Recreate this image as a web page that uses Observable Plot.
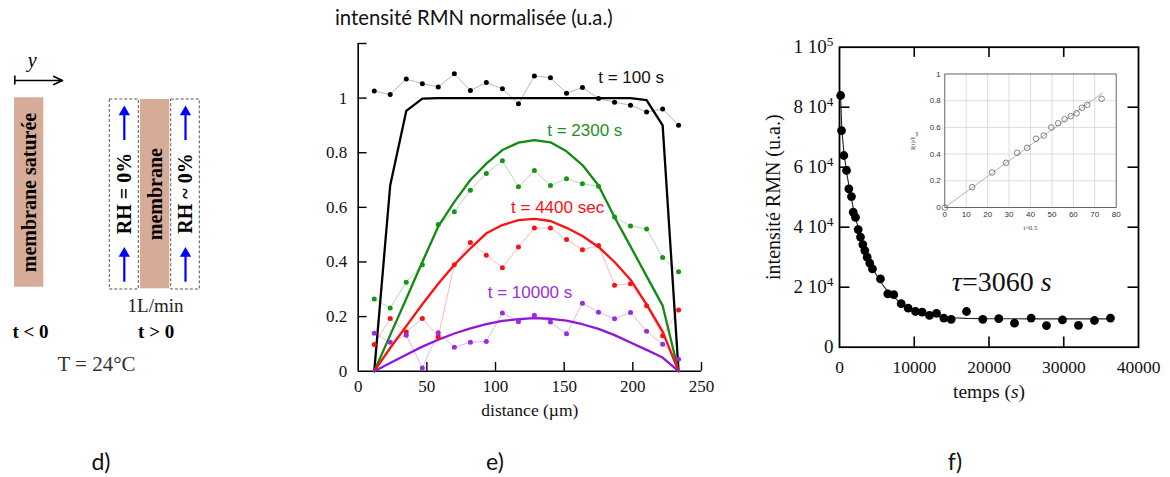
<!DOCTYPE html>
<html><head><meta charset="utf-8">
<script src="https://cdn.jsdelivr.net/npm/d3@7"></script>
<script src="https://cdn.jsdelivr.net/npm/@observablehq/plot@0.6"></script>
<style>
html,body{margin:0;padding:0;background:#fff;}
#wrap{position:relative;width:1170px;height:477px;overflow:hidden;background:#fff;}
#wrap svg{position:absolute;left:0;top:0;}
.lbl{position:absolute;font-family:Lato,"Open Sans",sans-serif;color:#111;white-space:nowrap;line-height:1;}
</style></head><body>
<div id="wrap"></div>
<script>
// ================= DATA =================
// Panel e : normalised NMR intensity profiles across the membrane
const distance = [11.7,23.3,35,46.7,58.3,70,81.7,93.3,105,116.7,128.3,140,151.7,163.3,175,186.7,198.3,210,221.7,233.3];
const meas100   = [1.026,1.013,1.070,1.053,1.041,1.089,1.028,1.057,1.034,0.979,1.081,1.075,1.018,1.039,0.999,0.985,0.974,0.949,0.960,0.901];
const meas2300  = [0.264,0.231,0.326,0.390,0.537,0.584,0.663,0.724,0.771,0.675,0.735,0.680,0.705,0.686,0.677,0.565,0.532,0.521,0.416,0.364];
const meas4400  = [0.098,0.193,0.144,0.193,0.126,0.390,0.471,0.425,0.379,0.455,0.524,0.524,0.482,0.445,0.460,0.315,0.320,0.240,0.130,0.224];
const meas10000 = [0.139,0.106,0.132,0.012,0.141,0.088,0.106,0.109,0.213,0.181,0.205,0.180,0.137,0.249,0.216,0.192,0.215,0.146,0.099,0.044];
const model100   = [0,0.68,0.953,0.998,1,1,1,1,1,1,1,1,1,1,1,1,1,0.993,0.90,0];
const model2300  = [0,0.132,0.265,0.40,0.53,0.62,0.70,0.76,0.81,0.837,0.846,0.838,0.805,0.755,0.68,0.564,0.457,0.348,0.24,0];
const model4400  = [0,0.085,0.165,0.245,0.32,0.39,0.45,0.505,0.535,0.553,0.558,0.550,0.525,0.495,0.455,0.40,0.335,0.245,0.145,0];
const model10000 = [0,0.03,0.06,0.09,0.115,0.138,0.157,0.172,0.184,0.191,0.194,0.192,0.185,0.172,0.155,0.132,0.105,0.078,0.05,0];
const eSeriesNames = ["t = 100 s","t = 2300 s","t = 4400 sec","t = 10000 s"];
const eXticks = [0,50,100,150,200,250];
const eXtickLabels = ["0","50","100","150","200","250"];
const eYticks = [0,0.2,0.4,0.6,0.8,1];
const eYtickLabels = ["0","0.2","0.4","0.6","0.8","1"];

// Panel f : NMR intensity vs time
const temps = [150,270,580,940,1250,1600,1830,2140,2500,2810,3120,3390,3700,4050,4410,5480,6460,7260,8250,9190,10170,11060,12040,12980,13950,14940,16990,19170,21310,23410,25640,27690,29830,31970,34110,36250];
const intensite = [83900,72200,63900,58900,52800,50200,45000,43300,39200,36700,34200,32200,30000,28000,26100,22800,17800,17500,14500,13000,11900,11700,10600,11300,9700,9300,11900,9300,9500,8000,9700,7200,9100,7300,8900,9700];
const fitTemps = [150,300,600,1000,1500,2000,2500,3000,3500,4000,4500,5000,6000,7000,8000,9000,10000,11000,12000,13000,14000,15000,17000,20000,25000,30000,36000];
const fitIntensite = [83900,73000,64500,57500,50500,44500,39800,35500,31800,28700,26000,23800,20000,17200,15200,13600,12400,11500,10900,10400,10100,9800,9600,9500,9450,9450,9450];
const fXticks = [0,10000,20000,30000,40000];
const fXtickLabels = ["0","10000","20000","30000","40000"];
const fYticks = [0,20000,40000,60000,80000,100000];
const fYtickLabels = ["0","2 10^{4}","4 10^{4}","6 10^{4}","8 10^{4}","1 10^{5}"];

// Inset : I(t)/I_sat vs t^0.5
const sqrtT = [0,12.8,22.1,28.6,33.8,38.4,42.6,46.2,49.7,52.9,55.9,58.8,61.5,64.0,66.5,73.2];
const ratio = [0,0.152,0.262,0.335,0.410,0.447,0.515,0.539,0.599,0.631,0.661,0.684,0.706,0.747,0.769,0.814];
const insetFitX = [0,73.5];
const insetFitY = [0,0.857];
const insetXticks = [0,10,20,30,40,50,60,70,80];
const insetYticks = [0,0.2,0.4,0.6,0.8,1];
const insetYtickLabels = ["0","0.2","0.4","0.6","0.8","1"];

// Panel d : schematic labels
const membraneLabels = ["membrane saturée","membrane"];
const gasLabels = ["RH = 0%","RH ~ 0%"];
const stateLabels = ["t < 0","t > 0"];

// ================= LAYOUT / STYLE =================
const W = 1170, H = 477;
const SERIF = "Liberation Serif, Times New Roman, serif";
const SANS = "Liberation Sans, Arial, sans-serif";
const base = {width: W, height: H, style: {background: "none", overflow: "visible"}};
const wrap = document.getElementById("wrap");

function rich(svg) {
  const NS = "http://www.w3.org/2000/svg";
  svg.querySelectorAll("text").forEach(t => {
    const s = t.textContent;
    if (!/(\^\{|_\{|\*)/.test(s)) return;
    const parts = s.split(/(\^\{[^}]*\}|_\{[^}]*\}|\*[^*]*\*)/).filter(p => p);
    t.textContent = "";
    for (const p of parts) {
      const ts = document.createElementNS(NS, "tspan");
      if (p.startsWith("^{")) { ts.textContent = p.slice(2, -1); ts.setAttribute("baseline-shift", "super"); ts.setAttribute("font-size", "70%"); }
      else if (p.startsWith("_{")) { ts.textContent = p.slice(2, -1); ts.setAttribute("baseline-shift", "sub"); ts.setAttribute("font-size", "70%"); }
      else if (p.startsWith("*")) { ts.textContent = p.slice(1, -1); ts.setAttribute("font-style", "italic"); }
      else ts.textContent = p;
      t.appendChild(ts);
    }
  });
  return svg;
}
function add(svg) { wrap.appendChild(rich(svg)); }

// ---------- Panel d (schematic) ----------
const dLayout = {
  membranes: [{x1:14, x2:43.3, y1:97.3, y2:286.7}, {x1:140, x2:169.3, y1:99, y2:288.3}],
  gas: [{x1:109.3, x2:138.3, y1:99, y2:289}, {x1:170.7, x2:199.3, y1:99, y2:289}],
  states: [{x:30, y:331.7}, {x:155.7, y:331.7}]
};
const memb = membraneLabels.map((l, i) => ({label: l, ...dLayout.membranes[i]}));
const gas = gasLabels.map((l, i) => ({label: l, ...dLayout.gas[i]}));
const shafts = gas.flatMap(g => [{x:(g.x1+g.x2)/2, y1:140, y2:112}, {x:(g.x1+g.x2)/2, y1:281.7, y2:254}]);
const heads = gas.flatMap(g => [{x:(g.x1+g.x2)/2, y:111.5}, {x:(g.x1+g.x2)/2, y:253}]);
add(Plot.plot({
  ...base, margin: 0,
  x: {domain: [0, W], range: [0, W], axis: null},
  y: {domain: [0, H], range: [0, H], axis: null},
  marks: [
    Plot.rect(memb, {x1:"x1", x2:"x2", y1:"y1", y2:"y2", fill:"#d6ab98"}),
    Plot.rect(gas, {x1:"x1", x2:"x2", y1:"y1", y2:"y2", fill:"none", stroke:"#555", strokeWidth:1, strokeDasharray:"3,2"}),
    Plot.ruleX(shafts, {x:"x", y1:"y1", y2:"y2", stroke:"#0000ff", strokeWidth:2.2}),
    Plot.dot(heads, {x:"x", y:"y", symbol:"triangle", r:4.2, fill:"#0000ff"}),
    Plot.text(memb, {x:d=>(d.x1+d.x2)/2, y:d=>(d.y1+d.y2)/2, text:"label", rotate:-90, fontFamily:SERIF, fontWeight:"bold", fontSize:20, fill:"#000"}),
    Plot.text(gas, {x:d=>(d.x1+d.x2)/2, y:d=>(d.y1+d.y2)/2 - 1, text:"label", rotate:-90, fontFamily:SERIF, fontWeight:"bold", fontSize:20, fill:"#000"}),
    Plot.arrow([{x1:14.3, x2:62, y:80}], {x1:"x1", x2:"x2", y1:"y", y2:"y", stroke:"#000", strokeWidth:1.6, headLength:9, headAngle:50}),
    Plot.ruleX([{x:14.3}], {x:"x", y1:75.5, y2:84.5, stroke:"#000", strokeWidth:1.6}),
    Plot.text(["*y*"], {x:31.7, y:60, text:d=>d, fontFamily:SERIF, fontSize:20}),
    Plot.text(["1L/min"], {x:155, y:305, text:d=>d, fontFamily:SERIF, fontSize:19, fill:"#222"}),
    Plot.text(stateLabels.map((l, i) => ({label:l, ...dLayout.states[i]})), {x:"x", y:"y", text:"label", fontFamily:SERIF, fontWeight:"bold", fontSize:19}),
    Plot.text(["T = 24°C"], {x:96, y:363.3, text:d=>d, fontFamily:SERIF, fontSize:21, fill:"#333"})
  ]
}));

// ---------- Panel e ----------
const eStyle = [
  {model:"#000000", light:"#b8b8b8", dot:"#000000", text:"#111111", lx:198.7, ly:1.076},
  {model:"#138a13", light:"#b5dcb5", dot:"#139613", text:"#1f8f1f", lx:165, ly:0.883},
  {model:"#ff1010", light:"#ffb8b8", dot:"#ff1010", text:"#ff1010", lx:145.2, ly:0.601},
  {model:"#9116d6", light:"#dcb8ef", dot:"#9b2be0", text:"#9b30d9", lx:125.1, ly:0.289}
];
const eMeas = [meas100, meas2300, meas4400, meas10000];
const eModel = [model100, model2300, model4400, model10000];
const eMarks = [];
eMeas.forEach((m, i) => eMarks.push(Plot.line(distance, {x: distance, y: m, stroke: eStyle[i].light, strokeWidth: 1})));
eModel.forEach((m, i) => eMarks.push(Plot.line(distance, {x: distance, y: m, stroke: eStyle[i].model, strokeWidth: 2.3})));
eMeas.forEach((m, i) => eMarks.push(Plot.dot(distance, {x: distance, y: m, r: 2.5, fill: eStyle[i].dot, stroke: "none"})));
eSeriesNames.forEach((n, i) => eMarks.push(Plot.text([n], {x: eStyle[i].lx, y: eStyle[i].ly, text: d => d, fill: eStyle[i].text, fontFamily: SANS, fontSize: 17})));
add(Plot.plot({
  ...base,
  marginLeft: 357.7, marginRight: W - 701, marginTop: 43, marginBottom: H - 370.7,
  x: {domain: [0, 250], axis: null},
  y: {domain: [0, 1.2], axis: null},
  marks: [
    Plot.ruleX([0], {y1: 0, y2: 1.2, stroke: "#000", strokeWidth: 1.6}),
    Plot.ruleY([0], {x1: 0, x2: 250, stroke: "#000", strokeWidth: 1.6}),
    Plot.ruleY(eYticks.slice(1).concat([1.2]), {y: d => d, x1: 0, x2: 6.5, stroke: "#000", strokeWidth: 1.4}),
    Plot.ruleX(eXticks.slice(1), {x: d => d, y1: 0, y2: 0.032, stroke: "#000", strokeWidth: 1.4}),
    Plot.text(eYticks, {x: 0, y: d => d, text: (d, i) => eYtickLabels[i], textAnchor: "end", dx: -11, fontFamily: SERIF, fontSize: 17, fill: "#111"}),
    Plot.text(eXticks, {x: d => d, y: 0, text: (d, i) => eXtickLabels[i], dy: 15, fontFamily: SERIF, fontSize: 17, fill: "#111"}),
    Plot.text(["distance (µm)"], {frameAnchor: "bottom", text: d => d, dy: 39.5, textAnchor: "middle", lineAnchor: "middle", fontFamily: SERIF, fontSize: 17.5, fill: "#111"}),
    ...eMarks
  ]
}));

// ---------- Panel f ----------
const tickX = fXticks.slice(1, -1), tickY = fYticks.slice(1, -1);
add(Plot.plot({
  ...base,
  marginLeft: 839, marginRight: W - 1138, marginTop: 46.7, marginBottom: H - 346.7,
  x: {domain: [0, 40000], axis: null},
  y: {domain: [0, 100000], axis: null},
  marks: [
    Plot.frame({stroke: "#000", strokeWidth: 1.8}),
    Plot.ruleX(tickX, {x: d => d, y1: 0, y2: 3400, stroke: "#000", strokeWidth: 1.6}),
    Plot.ruleX(tickX, {x: d => d, y1: 100000, y2: 96600, stroke: "#000", strokeWidth: 1.6}),
    Plot.ruleY(tickY, {y: d => d, x1: 0, x2: 1400, stroke: "#000", strokeWidth: 1.6}),
    Plot.ruleY(tickY, {y: d => d, x1: 40000, x2: 38600, stroke: "#000", strokeWidth: 1.6}),
    Plot.text(fYticks, {x: 0, y: d => d, text: (d, i) => fYtickLabels[i], textAnchor: "end", dx: -6, fontFamily: SERIF, fontSize: 19, fill: "#111"}),
    Plot.text(fXticks, {x: d => d, y: 0, text: (d, i) => fXtickLabels[i], dy: 20, fontFamily: SERIF, fontSize: 17.5, fill: "#111"}),
    Plot.text(["intensité RMN (u.a.)"], {frameAnchor: "left", text: d => d, dx: -66, rotate: -90, textAnchor: "middle", lineAnchor: "middle", fontFamily: SERIF, fontSize: 20, fill: "#111"}),
    Plot.text(["temps (*s*)"], {frameAnchor: "bottom", text: d => d, dy: 45, textAnchor: "middle", lineAnchor: "middle", fontFamily: SERIF, fontSize: 19.5, fill: "#111"}),
    Plot.text(["*τ*=3060 *s*"], {x: 21700, y: 21700, text: d => d, fontFamily: SERIF, fontSize: 28, fill: "#111"}),
    Plot.line(fitTemps, {x: fitTemps, y: fitIntensite, stroke: "#222", strokeWidth: 1.1}),
    Plot.dot(temps, {x: temps, y: intensite, r: 4.4, fill: "#000", stroke: "none"})
  ]
}));

// ---------- Inset ----------
add(Plot.plot({
  ...base,
  marginLeft: 944.3, marginRight: W - 1115.7, marginTop: 73.5, marginBottom: H - 207,
  x: {domain: [0, 80], axis: null},
  y: {domain: [0, 1], axis: null},
  marks: [
    Plot.ruleX(insetXticks.slice(1, -1), {x: d => d, stroke: "#d4d4d4", strokeWidth: 0.8}),
    Plot.ruleY(insetYticks.slice(1, -1), {y: d => d, stroke: "#d4d4d4", strokeWidth: 0.8}),
    Plot.frame({stroke: "#555", strokeWidth: 0.9}),
    Plot.text(insetXticks, {x: d => d, y: 0, text: d => String(d), dy: 7, fontFamily: SANS, fontSize: 8, fill: "#333"}),
    Plot.text(insetYticks, {x: 0, y: d => d, text: (d, i) => insetYtickLabels[i], textAnchor: "end", dx: -4, fontFamily: SANS, fontSize: 8, fill: "#333"}),
    Plot.text(["t^0.5"], {frameAnchor: "bottom", text: d => d, dy: 20, textAnchor: "middle", lineAnchor: "middle", fontFamily: SERIF, fontSize: 7, fill: "#444"}),
    Plot.text(["I(t)/I_{sat}"], {frameAnchor: "left", text: d => d, dx: -32, rotate: -90, textAnchor: "middle", lineAnchor: "middle", fontFamily: SERIF, fontSize: 7, fill: "#444"}),
    Plot.line(insetFitX, {x: insetFitX, y: insetFitY, stroke: "#aaa", strokeWidth: 0.9}),
    Plot.dot(sqrtT, {x: sqrtT, y: ratio, r: 2.8, stroke: "#666", strokeWidth: 0.8, fill: "none"})
  ]
}));

// ---------- HTML text: title and panel letters ----------
function label(txt, left, top, size, anchorCenter) {
  const d = document.createElement("div");
  d.className = "lbl"; d.textContent = txt;
  d.style.fontSize = size + "px"; d.style.top = top + "px";
  d.style.left = left + "px";
  if (anchorCenter) d.style.transform = "translateX(-50%)";
  wrap.appendChild(d);
}
label("intensité RMN normalisée (u.a.)", 335, 7, 20.3, false);
["d)", "e)", "f)"].forEach((t, i) => label(t, [101, 495, 955][i], 450, 23, true));
</script></body></html>
